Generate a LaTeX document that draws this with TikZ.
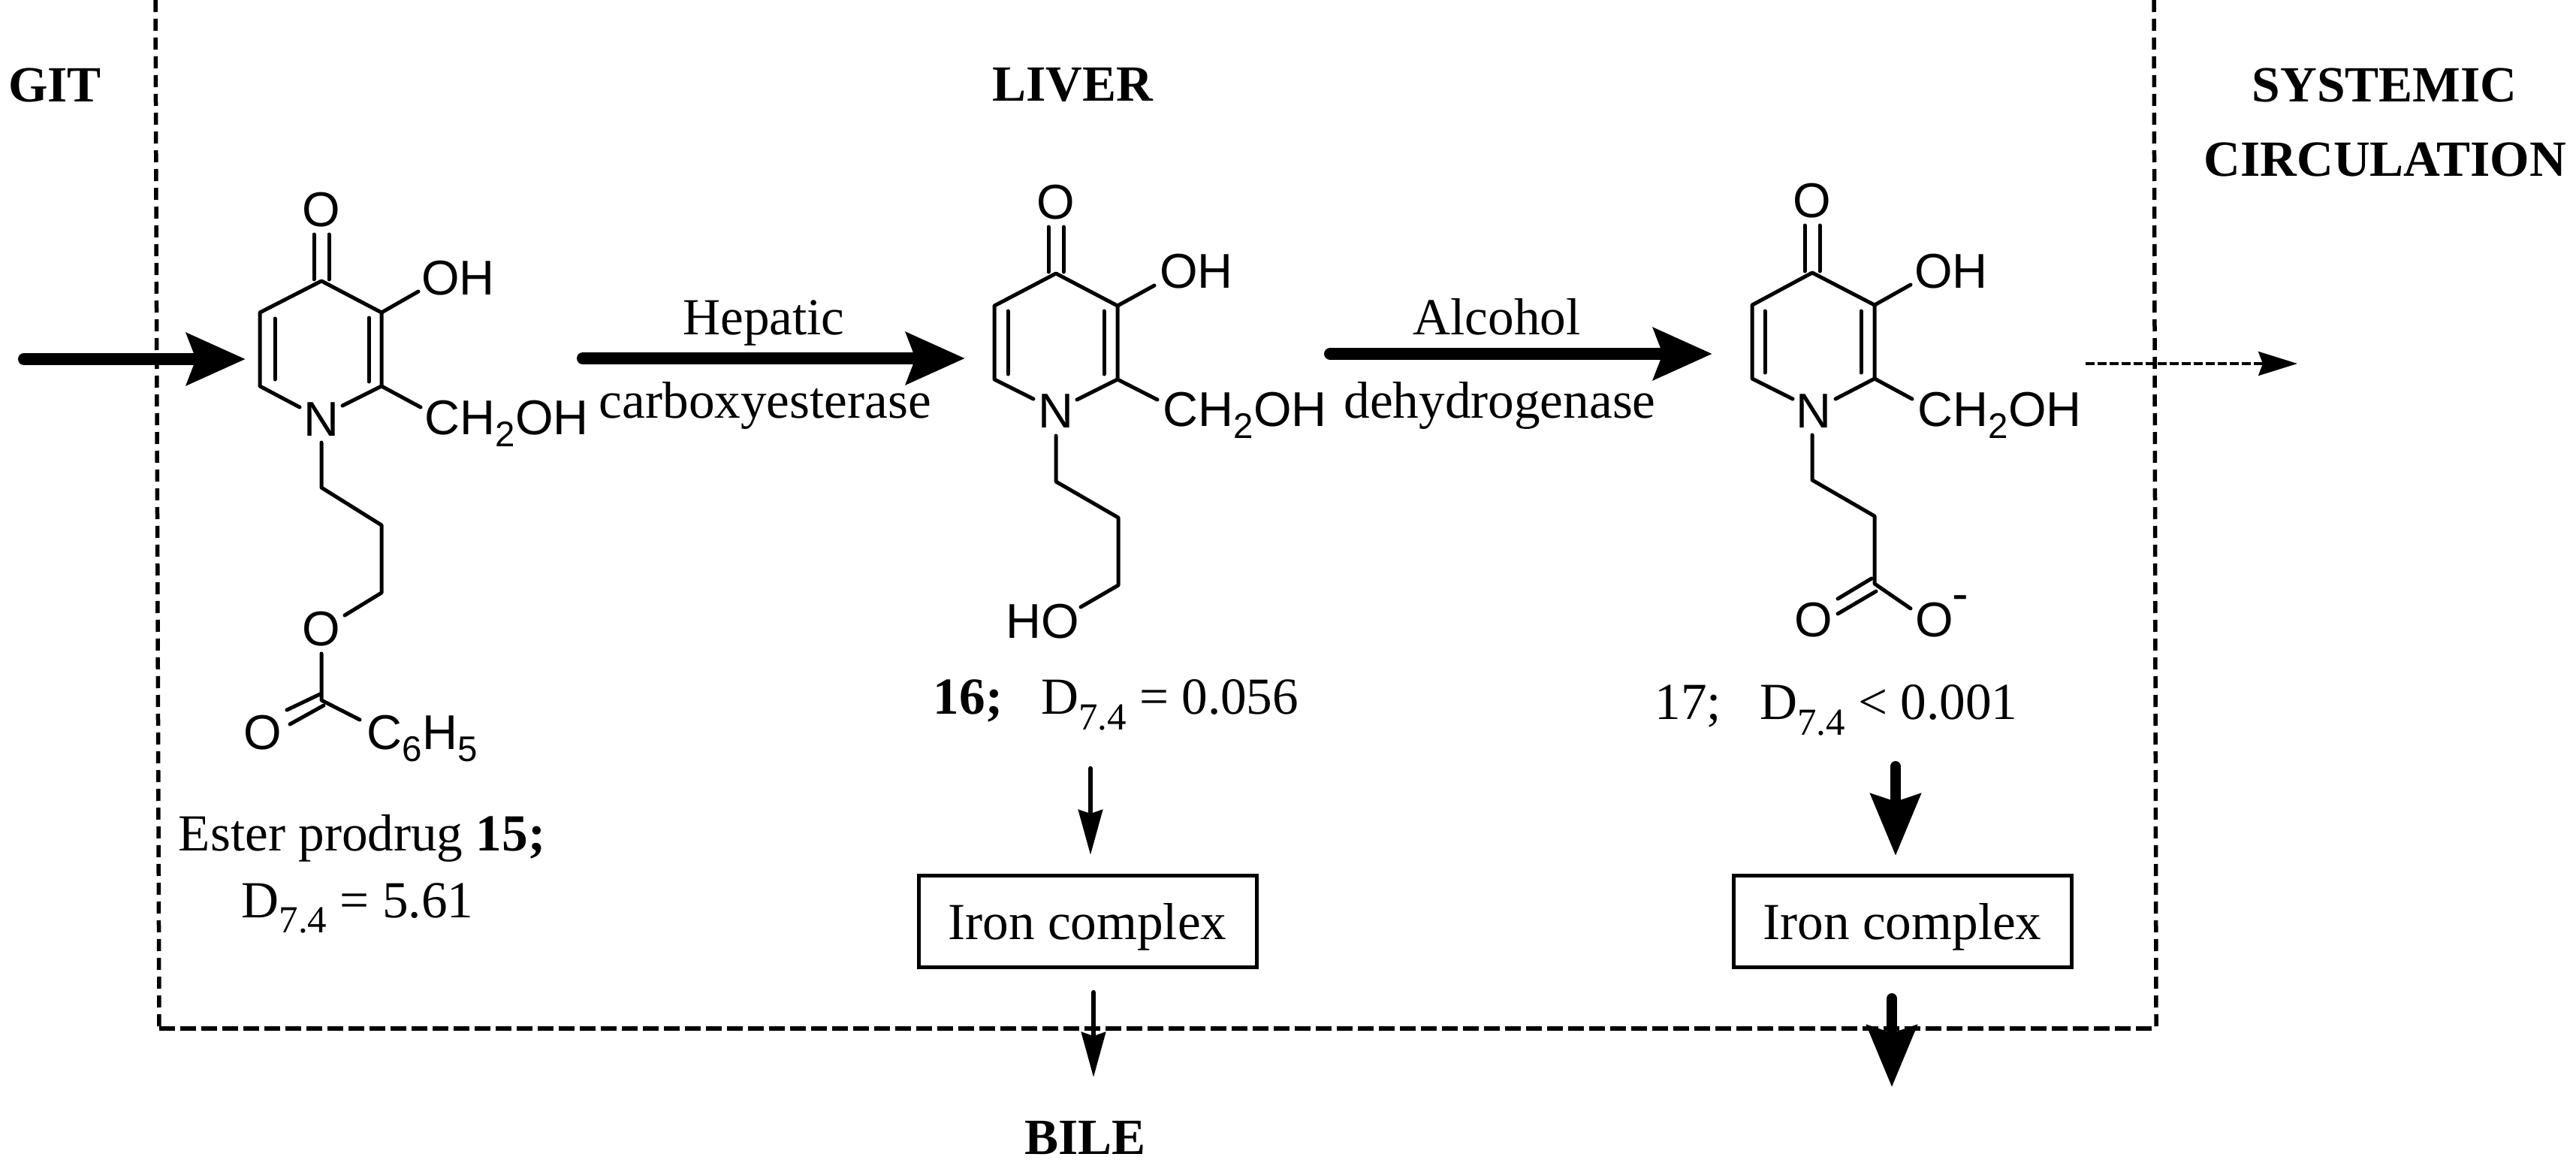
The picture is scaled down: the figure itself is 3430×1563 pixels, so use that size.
\documentclass[tikz,border=0pt]{standalone}
\usepackage{fontspec}
\setmainfont{Liberation Serif}
\newfontfamily\chemfont{Liberation Sans}
\usetikzlibrary{arrows.meta}
\newcommand{\Dsub}{D\raisebox{-0.3em}{\fontsize{14.5}{16}\selectfont 7.4}}
\newcommand{\chemsub}[1]{\raisebox{-0.24em}{\fontsize{13.5}{15}\selectfont #1}}
\tikzset{
  lab/.style={font=\fontsize{19.7}{22}\selectfont,inner sep=0pt,text=black},
  head/.style={font=\fontsize{19.2}{22}\selectfont\bfseries,inner sep=0pt,text=black},
  atom/.style={font=\chemfont\fontsize{18.5}{21}\selectfont,inner sep=0pt,text=black},
  bond/.style={line width=0.5mm,line cap=round,line join=round},
  region/.style={line width=0.55mm},
  ironbox/.style={draw,line width=0.5mm,minimum width=45mm,minimum height=12.2mm,inner sep=0pt,text height=6mm,text depth=1.2mm,font=\fontsize{19.7}{22}\selectfont},
  bigarrow/.style={line width=1.6mm,line cap=round,-{Stealth[length=7.8mm,width=6.8mm,inset=1.2mm]}},
  bigdown/.style={line width=1.4mm,line cap=round,-{Stealth[length=8.2mm,width=6.6mm,inset=1mm]}},
  thindown/.style={line width=0.65mm,line cap=round,-{Stealth[length=6mm,width=3.2mm,inset=0.5mm]}},
  thinarrow/.style={line width=0.35mm,dash pattern=on 1.2mm off 0.4mm,-{Stealth[length=5.2mm,width=3.2mm,inset=0.6mm]}},
}
\begin{document}
\begin{tikzpicture}[x=0.1mm,y=-0.1mm]
\useasboundingbox[fill=white] (0,0) rectangle (3430,1563);

% region boundaries
\coordinate (lt) at (207,0);
\coordinate (lb) at (212,1369);
\coordinate (rt) at (2868,0);
\coordinate (rb) at (2871,1369);
\draw[region,dash pattern=on 1.6mm off 0.9mm] (lt) -- (lb);
\draw[region,dash pattern=on 1.6mm off 0.9mm] (rt) -- (rb);
\draw[region,dash pattern=on 2.1mm off 0.7mm] (lb) -- (rb);

% region labels
\node[head] (git) at (73,113) {GIT};
\node[head] (liver) at (1428,113) {LIVER};
\node[head] (sys1) at (3175,113) {SYSTEMIC};
\node[head] (sys2) at (3176,212) {CIRCULATION};
\node[head] (bile) at (1445,1514) {BILE};

% --- molecule 15
\node[atom] (aO) at (428,279) {O};
\node[atom] (aOH) at (610,370) {OH};
\node[atom,anchor=west] (aCH) at (565,564) {CH\chemsub{2}OH};
\node[atom] (aN) at (428,558) {N};
\node[atom] (aOe) at (428,837) {O};
\node[atom] (aOk) at (350,975) {O};
\node[atom,anchor=west] (aPh) at (488,983) {C\chemsub{6}H\chemsub{5}};
\coordinate (a4) at (428,374); \coordinate (a3) at (508,416); \coordinate (a2) at (508,514);
\coordinate (a6) at (346,514); \coordinate (a5) at (346,416);
\coordinate (a7) at (428,649); \coordinate (a8) at (508,699); \coordinate (a9) at (508,789);
\coordinate (a10) at (428,932);
\draw[bond] (399,542) -- (a6) -- (a5) -- (a4) -- (a3) -- (a2) -- (456,540);
\draw[bond] (366,424) -- (366,505) (491,423) -- (491,508);
\draw[bond] (418,312) -- (418,372) (438,312) -- (438,372);
\draw[bond] (a3) -- (557,388) (a2) -- (560,542);
\draw[bond] (428,589) -- (a7) -- (a8) -- (a9) -- (459,819);
\draw[bond] (428,870) -- (a10) -- (479,958);
\draw[bond] (426,924) -- (382,945) (431,939) -- (386,964);
\node[lab] (a15) at (482,1116) {Ester prodrug \textbf{15;}};
\node[lab] (aD) at (476,1209) {\Dsub\ = 5.61};

% --- molecule 16
\node[atom] (bO) at (1406,269) {O};
\node[atom] (bOH) at (1593,361) {OH};
\node[atom,anchor=west] (bCH) at (1548,553) {CH\chemsub{2}OH};
\node[atom] (bN) at (1406,547) {N};
\node[atom] (bHO) at (1388,827) {HO};
\coordinate (b4) at (1406,364); \coordinate (b3) at (1488,407); \coordinate (b2) at (1488,505);
\coordinate (b6) at (1324,505); \coordinate (b5) at (1324,407);
\coordinate (b7) at (1406,641); \coordinate (b8) at (1489,689); \coordinate (b9) at (1489,779);
\draw[bond] (1376,531) -- (b6) -- (b5) -- (b4) -- (b3) -- (b2) -- (1434,532);
\draw[bond] (1342,414) -- (1342,498) (1470,414) -- (1470,498);
\draw[bond] (1396,302) -- (1396,362) (1416,302) -- (1416,362);
\draw[bond] (b3) -- (1537,380) (b2) -- (1541,532);
\draw[bond] (1406,580) -- (b7) -- (b8) -- (b9) -- (1439,808);
\node[lab] (b16) at (1486,938) {\textbf{16;}\hspace{14.5pt}\Dsub\ = 0.056};

% --- molecule 17
\node[atom] (cO) at (2413,267) {O};
\node[atom] (cOH) at (2598,361) {OH};
\node[atom,anchor=west] (cCH) at (2553,553) {CH\chemsub{2}OH};
\node[atom] (cN) at (2415,547) {N};
\node[atom] (cOk) at (2415,825) {O};
\node[atom] (cOm) at (2576,825) {O};
\node[atom] (cMinus) at (2610,803) {-};
\coordinate (c4) at (2413,363); \coordinate (c3) at (2496,406); \coordinate (c2) at (2496,504);
\coordinate (c6) at (2333,504); \coordinate (c5) at (2333,406);
\coordinate (c7) at (2413,639); \coordinate (c8) at (2496,687); \coordinate (c9) at (2496,777);
\draw[bond] (2387,531) -- (c6) -- (c5) -- (c4) -- (c3) -- (c2) -- (2444,531);
\draw[bond] (2350,414) -- (2350,496) (2478,414) -- (2478,496);
\draw[bond] (2403,300) -- (2403,361) (2423,300) -- (2423,361);
\draw[bond] (c3) -- (2544,379) (c2) -- (2546,531);
\draw[bond] (2413,579) -- (c7) -- (c8) -- (c9) -- (2544,810);
\draw[bond] (2492,770) -- (2447,797) (2498,787) -- (2447,817);
\node[lab] (c17) at (2445,945) {17;\hspace{14.5pt}\Dsub\ < 0.001};

% reaction labels
\node[lab] (hep) at (1017,430) {Hepatic};
\node[lab] (carb) at (1019,540) {carboxyesterase};
\node[lab] (alc) at (1993,422) {Alcohol};
\node[lab] (dehy) at (1997,540) {dehydrogenase};

% iron complexes
\node[ironbox] (iron1) at (1448,1226) {Iron complex};
\node[ironbox] (iron2) at (2533,1226) {Iron complex};
\node[inner sep=0pt] (bileEnd) at (1456,1434) {};
\node[inner sep=0pt] (outEnd) at (2519,1447) {};

% arrows
\coordinate (in0) at (32,478); \coordinate (in1) at (327,478);
\coordinate (h0) at (776,477); \coordinate (h1) at (1285,477);
\coordinate (d0) at (1771,471); \coordinate (d1) at (2280,471);
\coordinate (s0) at (2777,484); \coordinate (s1) at (3059,484);
\draw[bigarrow] (in0) -- (in1);
\draw[bigarrow] (h0) -- (h1);
\draw[bigarrow] (d0) -- (d1);
\draw[thinarrow] (s0) -- (s1);
\coordinate (v1a) at (1452,1023); \coordinate (v1b) at (1452,1138);
\coordinate (v2a) at (2524,1020); \coordinate (v2b) at (2524,1139);
\coordinate (v3a) at (1456,1321);
\coordinate (v4a) at (2519,1329);
\draw[thindown] (v1a) -- (v1b);
\draw[bigdown] (v2a) -- (v2b);
\draw[thindown] (v3a) -- (bileEnd.center);
\draw[bigdown] (v4a) -- (outEnd.center);
\end{tikzpicture}
\end{document}
